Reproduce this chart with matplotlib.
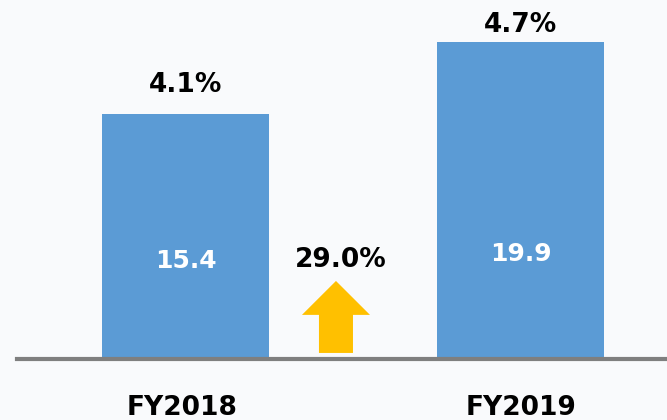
import matplotlib
matplotlib.use("Agg")
import matplotlib.pyplot as plt
from matplotlib.patches import FancyArrow

categories = ["FY2018", "FY2019"]
values = [15.4, 19.9]
margins = ["4.1%", "4.7%"]
value_labels = ["15.4", "19.9"]
growth_label = "29.0%"

BG = "#f9fafc"
BAR = "#5b9bd5"
ARROW = "#ffc000"

fig = plt.figure(figsize=(6.67, 4.2), dpi=100, facecolor=BG)
ax = fig.add_axes([17 / 667, 61 / 420, 650 / 667, 359 / 420])
ax.set_facecolor(BG)

x = list(range(len(categories)))
ax.bar(x, values, width=0.5, color=BAR, zorder=1)
ax.set_xlim(-0.503, 1.437)
ax.set_ylim(0, 22.54)

for s in ["top", "left", "right"]:
    ax.spines[s].set_visible(False)
ax.spines["bottom"].set_color("#7f7f7f")
ax.spines["bottom"].set_linewidth(3)
ax.set_yticks([])
ax.set_xticks(x)
ax.set_xticklabels([])
ax.tick_params(axis="x", length=0)

font = dict(family="DejaVu Sans", fontweight="bold")

top_offsets = [1.35, 0.63]
inner_y = [5.71, 6.15]
for xi, v, m, lab, off, iy in zip(x, values, margins, value_labels, top_offsets, inner_y):
    ax.text(xi, v + off, m, ha="center", va="baseline", fontsize=19, color="black", **font)
    ax.text(xi, iy, lab, ha="center", va="baseline", fontsize=18, color="white", **font)
    ax.text(xi - 0.01 if xi == 0 else xi, -3.52, categories[xi], ha="center", va="baseline",
            fontsize=19, color="black", clip_on=False, **font)

ax.text(0.462, 5.78, growth_label, ha="center", va="baseline", fontsize=19, color="black", **font)

arrow = FancyArrow(0.449, 0.38, 0, 4.52, width=0.1015, head_width=0.203,
                   head_length=2.13, length_includes_head=True, color=ARROW, lw=0)
ax.add_patch(arrow)

fig.savefig("out.png", dpi=100, facecolor=BG)
